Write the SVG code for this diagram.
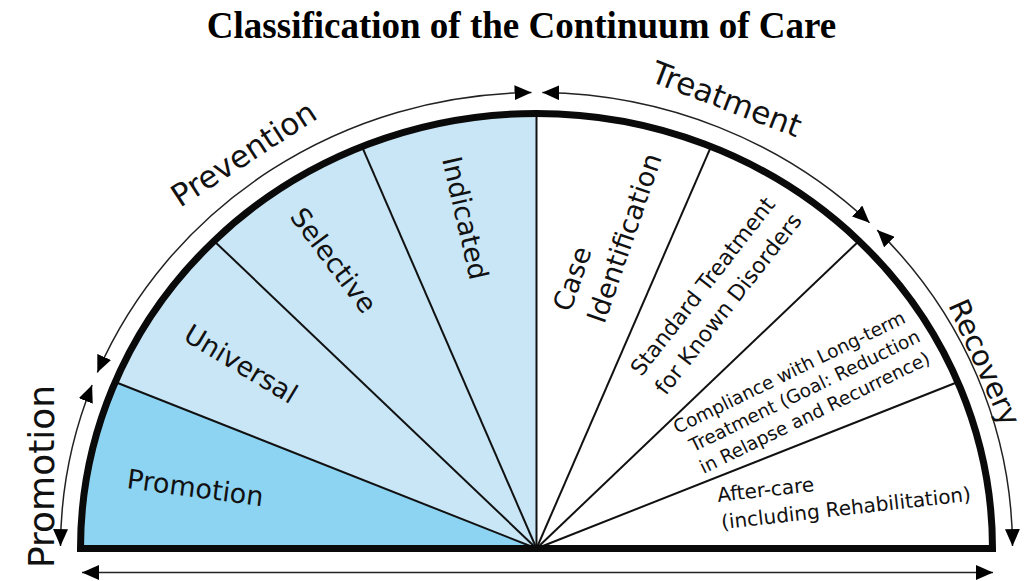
<svg xmlns="http://www.w3.org/2000/svg" width="1030" height="581" viewBox="0 0 1030 581">
<defs>
<style>
.title{font-family:"Liberation Serif","Times New Roman",serif;font-weight:bold;font-size:37px;fill:#000}
.lbl{font-family:"DejaVu Sans",Verdana,sans-serif;fill:#111}
.big{font-size:31px}
.sec{font-size:27px}
.mid{font-size:22px}
.sm{font-size:18.5px}
.ac{font-size:20px}
.div{stroke:#111;stroke-width:2;fill:none}
.rng{stroke:#222;stroke-width:1.5;fill:none;marker-start:url(#ah);marker-end:url(#ah)}
</style>
<marker id="ah" viewBox="0 0 17 15" refX="17" refY="7.5" markerWidth="17" markerHeight="15" markerUnits="userSpaceOnUse" orient="auto-start-reverse">
<path d="M0,0 L17,7.5 L0,15 Z" fill="#000"/>
</marker>
</defs>
<rect width="1030" height="581" fill="#fff"/>
<text class="title" x="521.5" y="38" text-anchor="middle">Classification of the Continuum of Care</text>

<g id="sectors">
<path id="s-promotion" d="M536.5,548.5 L80.5,548.5 A456,435 0 0 1 115.21,382.03 Z" fill="#8dd4f3"/>
<path id="s-universal" d="M536.5,548.5 L115.21,382.03 A456,435 0 0 1 214.06,240.91 Z" fill="#c8e6f6"/>
<path id="s-selective" d="M536.5,548.5 L214.06,240.91 A456,435 0 0 1 362.0,146.61 Z" fill="#c8e6f6"/>
<path id="s-indicated" d="M536.5,548.5 L362.0,146.61 A456,435 0 0 1 536.5,113.5 Z" fill="#c8e6f6"/>
<path id="s-white" d="M536.5,548.5 L536.5,113.5 A456,435 0 0 1 992.5,548.5 Z" fill="#fff"/>
</g>

<g id="dividers">
<line class="div" x1="536.5" y1="548.5" x2="115.21" y2="382.03"/>
<line class="div" x1="536.5" y1="548.5" x2="214.06" y2="240.91"/>
<line class="div" x1="536.5" y1="548.5" x2="362.0" y2="146.61"/>
<line class="div" x1="536.5" y1="548.5" x2="536.5" y2="113.5"/>
<line class="div" x1="536.5" y1="548.5" x2="711.0" y2="146.61"/>
<line class="div" x1="536.5" y1="548.5" x2="858.94" y2="240.91"/>
<line class="div" x1="536.5" y1="548.5" x2="957.79" y2="382.03"/>
</g>
<path id="outline" d="M80.5,548.5 A456,435 0 0 1 992.5,548.5 Z" fill="none" stroke="#0a0a0a" stroke-width="7" stroke-linejoin="miter"/>

<g id="n-promotion"><text class="lbl sec" transform="translate(126,488) rotate(7.6)">Promotion</text></g>
<g id="n-universal"><text class="lbl sec" text-anchor="middle" transform="translate(236,372) rotate(31)">Universal</text></g>
<g id="n-selective"><text class="lbl sec" text-anchor="middle" transform="translate(326,266) rotate(53)">Selective</text></g>
<g id="n-indicated"><text class="lbl sec" text-anchor="middle" transform="translate(456,220) rotate(77)">Indicated</text></g>
<g id="n-case"><text class="lbl sec" transform="translate(570.3,313) rotate(-71)"><tspan x="0" y="0">Case</tspan><tspan x="0" y="36">Identification</tspan></text></g>
<g id="n-standard"><text class="lbl mid" text-anchor="middle" transform="translate(708.6,291) rotate(-52)"><tspan x="0" y="0">Standard Treatment</tspan><tspan x="2" y="31">for Known Disorders</tspan></text></g>
<g id="n-compliance"><text class="lbl sm" text-anchor="middle" transform="translate(792,378) rotate(-26)"><tspan x="0" y="0">Compliance with Long-term</tspan><tspan x="5.7" y="23.5">Treatment (Goal: Reduction</tspan><tspan x="5.2" y="47.5">in Relapse and Recurrence)</tspan></text></g>
<g id="n-aftercare"><text class="lbl ac" transform="translate(718,502) rotate(-6.5)"><tspan x="0" y="0">After-care</tspan><tspan x="0.9" y="27.5">(including Rehabilitation)</tspan></text></g>

<g id="connectors">
<path class="rng" d="M97.36,372.52 A476,456 0 0 1 531.52,92.52"/>
<path class="rng" d="M542.32,92.53 A476,456 0 0 1 869.54,222.70"/>
<path class="rng" d="M877.25,230.12 A476,456 0 0 1 1012.5,546.1"/>
<path class="rng" d="M92.10,385.08 A476,456 0 0 0 60.5,546.1"/>
<line class="rng" x1="82" y1="572.5" x2="993" y2="572.5"/>
</g>

<g id="range-labels">
<text class="lbl big" transform="translate(180,208) rotate(-33)">Prevention</text>
<text class="lbl big" transform="translate(649,81) rotate(21)">Treatment</text>
<text class="lbl" font-size="29" transform="translate(948,305) rotate(66)">Recovery</text>
<text class="lbl" font-size="36" transform="translate(54,568) rotate(-90)">Promotion</text>
</g>
</svg>
